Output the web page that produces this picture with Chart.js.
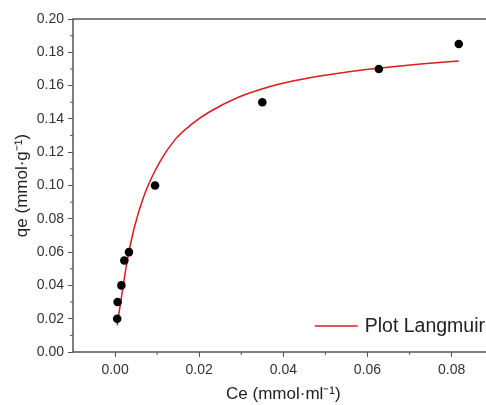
<!DOCTYPE html>
<html>
<head>
<meta charset="utf-8">
<script src="https://cdn.jsdelivr.net/npm/chart.js@4.4.0/dist/chart.umd.min.js"></script>
<style>
  html, body { margin: 0; padding: 0; background: #fff; overflow: hidden; }
  #wrap { width: 486px; height: 405px; overflow: hidden; }
</style>
</head>
<body>
<div id="wrap"><canvas id="myChart" width="498" height="405"></canvas></div>
<script>
// measured points
const ceData = [0.0005, 0.0006, 0.0015, 0.0022, 0.0033, 0.0095, 0.035, 0.0627, 0.0817];
const qeData = [0.020, 0.030, 0.040, 0.055, 0.060, 0.100, 0.150, 0.170, 0.185];

// langmuir fit line
const fitCe = [0.0005, 0.0017, 0.0029, 0.0045, 0.0069, 0.0106, 0.0144, 0.0183, 0.0223, 0.0293, 0.0349, 0.0428, 0.0507, 0.0597, 0.0627, 0.0720, 0.0817];
const fitQe = [0.016, 0.036, 0.055, 0.074, 0.094, 0.114, 0.128, 0.137, 0.144, 0.153, 0.158, 0.163, 0.1665, 0.1697, 0.1705, 0.1728, 0.1748];

const xTicks = [0.00, 0.02, 0.04, 0.06, 0.08];
const xMinor = [0.01, 0.03, 0.05, 0.07];
const yTicks = [0.00, 0.02, 0.04, 0.06, 0.08, 0.10, 0.12, 0.14, 0.16, 0.18, 0.20];
const yMinor = [0.01, 0.03, 0.05, 0.07, 0.09, 0.11, 0.13, 0.15, 0.17, 0.19];

const axisColor = '#555';
const textColor = '#333';
const fontFam = '"Liberation Sans", Arial, sans-serif';

const framePlugin = {
  id: 'frame',
  afterDraw(chart) {
    const ctx = chart.ctx;
    const a = chart.chartArea;
    const xs = chart.scales.x, ys = chart.scales.y;
    ctx.save();
    ctx.strokeStyle = axisColor;
    ctx.lineWidth = 1.5;
    ctx.strokeRect(a.left, a.top, a.right - a.left, a.bottom - a.top);
    // minor ticks
    ctx.lineWidth = 1;
    ctx.beginPath();
    xMinor.forEach(v => {
      const px = xs.getPixelForValue(v);
      ctx.moveTo(px, a.bottom);
      ctx.lineTo(px, a.bottom + 3);
    });
    yMinor.forEach(v => {
      const py = ys.getPixelForValue(v);
      ctx.moveTo(a.left, py);
      ctx.lineTo(a.left - 3, py);
    });
    ctx.stroke();
    // legend in the lower right corner
    const ly = a.bottom - 26;
    const lx = a.right - 179;
    ctx.strokeStyle = '#e31a1c';
    ctx.lineWidth = 1.5;
    ctx.beginPath();
    ctx.moveTo(lx, ly);
    ctx.lineTo(lx + 43, ly);
    ctx.stroke();
    ctx.fillStyle = '#222';
    ctx.font = '19.5px ' + fontFam;
    ctx.textBaseline = 'middle';
    ctx.fillText('Plot Langmuir', lx + 50, ly + 1);
    ctx.restore();
  }
};

const config = {
  type: 'scatter',
  data: {
    datasets: [
      {
        label: 'Plot Langmuir',
        type: 'line',
        data: fitCe.map((c, i) => ({x: c, y: fitQe[i]})),
        borderColor: '#e31a1c',
        borderWidth: 1.5,
        pointRadius: 0,
        fill: false,
        cubicInterpolationMode: 'monotone',
        order: 2
      },
      {
        label: 'data',
        data: ceData.map((c, i) => ({x: c, y: qeData[i]})),
        backgroundColor: '#000',
        borderColor: '#000',
        borderWidth: 0,
        pointRadius: 4.3,
        order: 1
      }
    ]
  },
  options: {
    responsive: false,
    animation: false,
    layout: { padding: { top: 19, right: 2, left: 0, bottom: 0 } },
    plugins: { legend: { display: false }, tooltip: { enabled: false } },
    scales: {
      x: {
        type: 'linear',
        min: -0.01,
        max: 0.09,
        afterBuildTicks: s => { s.ticks = xTicks.map(v => ({value: v})); },
        afterFit: s => { s.height = 53; },
        grid: { drawOnChartArea: false, drawTicks: true, tickLength: 5, color: axisColor },
        border: { display: false },
        ticks: {
          color: textColor,
          padding: 5,
          font: { family: fontFam, size: 14 },
          callback: v => v.toFixed(2)
        },
        title: {
          display: true,
          text: 'Ce (mmol·ml⁻¹)',
          color: '#222',
          padding: { top: 9, bottom: 0 },
          font: { family: fontFam, size: 17 }
        }
      },
      y: {
        type: 'linear',
        min: 0,
        max: 0.2,
        afterBuildTicks: s => { s.ticks = yTicks.map(v => ({value: v})); },
        afterFit: s => { s.width = 73; },
        grid: { drawOnChartArea: false, drawTicks: true, tickLength: 5, color: axisColor },
        border: { display: false },
        ticks: {
          color: textColor,
          padding: 4,
          font: { family: fontFam, size: 14 },
          callback: v => v.toFixed(2)
        },
        title: {
          display: true,
          text: 'qe (mmol·g⁻¹)',
          color: '#222',
          padding: { top: 12, bottom: 0 },
          font: { family: fontFam, size: 17 }
        }
      }
    }
  },
  plugins: [framePlugin]
};

const myChart = new Chart(document.getElementById('myChart'), config);
</script>
</body>
</html>
